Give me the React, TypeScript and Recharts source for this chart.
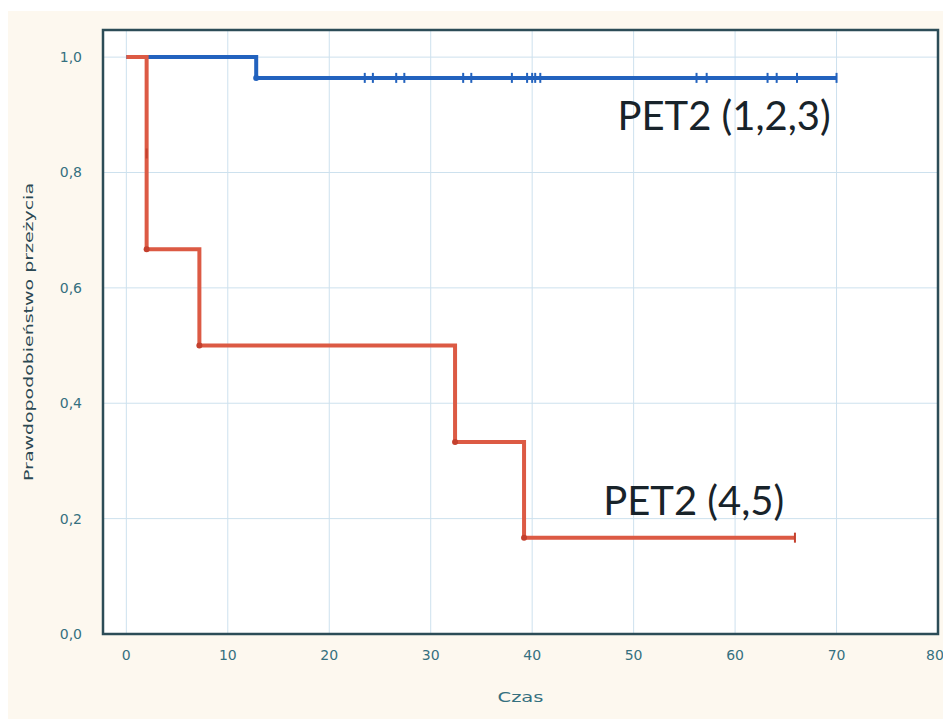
import React from 'react';
import { LineChart, Line, XAxis, YAxis, CartesianGrid, ReferenceArea, ReferenceDot } from 'recharts';

// PET2 (1,2,3) — Kaplan–Meier steps and censored times
const blueStepTimes = [0, 12.8];
const blueStepSurvival = [1, 0.964];
const blueCensorTimes = [23.5, 24.3, 26.6, 27.4, 33.2, 34.0, 38.0, 39.5, 40.0, 40.3, 40.8, 56.2, 57.2, 63.2, 64.1, 66.1, 70.0];

// PET2 (4,5)
const redTimes = [0, 2.0, 2.0, 7.2, 32.4, 39.2, 65.9];
const redSurvival = [1, 0.833, 0.667, 0.5, 0.333, 0.167, 0.167];
const redCensored = [false, true, false, false, false, false, true];

const xTicks = [0, 10, 20, 30, 40, 50, 60, 70, 80];
const yTicks = [0, 0.2, 0.4, 0.6, 0.8, 1.0];
const xDomain = [-2.3, 80];
const yDomain = [0, 1.047];

const annotations = [
  { text: 'PET2 (1,2,3)', t: 48.4, s: 0.873 },
  { text: 'PET2 (4,5)', t: 47.0, s: 0.206 },
];

type Pt = { t: number; s: number; censored: boolean; first?: boolean };

const blueData: Pt[] = (() => {
  const pts: Pt[] = blueStepTimes.map((t, i) => ({ t, s: blueStepSurvival[i], censored: false, first: i === 0 }));
  blueCensorTimes.forEach((t) => {
    let s = blueStepSurvival[0];
    blueStepTimes.forEach((st, i) => { if (st <= t) s = blueStepSurvival[i]; });
    pts.push({ t, s, censored: true });
  });
  return pts.sort((a, b) => a.t - b.t);
})();

const redData: Pt[] = redTimes.map((t, i) => ({ t, s: redSurvival[i], censored: redCensored[i], first: i === 0 }));

const BLUE = '#2262be';
const RED = '#dc5a44';
const AXIS = '#2c4c57';
const TICKTXT = '#35707f';
const TITLETXT = '#2b4852';

const makeDot = (color: string) => (props: any) => {
  const { cx, cy, payload, index } = props;
  if (cx == null || cy == null || payload.first) return <g key={'d' + index} />;
  if (payload.censored) {
    return (
      <g key={'d' + index}>
        <line x1={cx} y1={cy - 5} x2={cx} y2={cy + 5} stroke={color} strokeWidth={2} />
      </g>
    );
  }
  return <circle key={'d' + index} cx={cx} cy={cy} r={3} fill={color} stroke="none" />;
};

const XTick = (props: any) => {
  const { x, y, payload } = props;
  return (
    <text x={x} y={y + 26} textAnchor="middle" fontFamily="DejaVu Sans" fontSize={14} fill={TICKTXT}>
      {String(payload.value)}
    </text>
  );
};

const YTick = (props: any) => {
  const { x, y, payload } = props;
  return (
    <text x={x - 21} y={y + 5} textAnchor="end" fontFamily="DejaVu Sans" fontSize={14} fill={TICKTXT}>
      {Number(payload.value).toFixed(1).replace('.', ',')}
    </text>
  );
};

const AnnotationLabel = (text: string) => (props: any) => {
  const vb = props.viewBox || {};
  return (
    <text x={vb.x} y={vb.y} fontFamily="Lato" fontSize={40} fill="#18232a">
      {text}
    </text>
  );
};

export default function App() {
  return (
    <div style={{ position: 'absolute', left: 0, top: 0, width: 943, height: 719, background: '#ffffff' }}>
      <div style={{ position: 'absolute', left: 8, top: 11, width: 935, height: 708, background: '#fdf8ef' }}>
        <LineChart width={935} height={708} margin={{ top: 19, right: 5, bottom: 0, left: 0 }}>
          <CartesianGrid stroke="#cde1ee" strokeWidth={1} fill="#ffffff" />
          <XAxis
            dataKey="t"
            type="number"
            domain={xDomain}
            ticks={xTicks}
            allowDataOverflow
            height={85}
            tickSize={0}
            tickMargin={0}
            axisLine={false}
            tickLine={false}
            tick={<XTick />}
            label={{
              content: (p: any) => {
                const vb = p.viewBox;
                return (
                  <text x={vb.x + vb.width / 2} y={vb.y + 68} textAnchor="middle" fontFamily="DejaVu Sans" fontSize={14} fill={TICKTXT} textLength={46} lengthAdjust="spacingAndGlyphs">
                    Czas
                  </text>
                );
              },
            }}
          />
          <YAxis
            type="number"
            domain={yDomain}
            ticks={yTicks}
            allowDataOverflow
            width={95}
            tickSize={0}
            tickMargin={0}
            axisLine={false}
            tickLine={false}
            tick={<YTick />}
            label={{
              content: (p: any) => {
                const vb = p.viewBox;
                const cx = vb.x + 25;
                const cy = vb.y + vb.height / 2;
                return (
                  <text x={cx} y={cy} transform={`rotate(-90 ${cx} ${cy})`} textAnchor="middle" fontFamily="DejaVu Sans" fontSize={13} fill={TITLETXT} textLength={298} lengthAdjust="spacingAndGlyphs">
                    Prawdopodobieństwo przeżycia
                  </text>
                );
              },
            }}
          />
          <ReferenceArea x1={xDomain[0]} x2={xDomain[1]} y1={yDomain[0]} y2={yDomain[1]} fill="none" stroke={AXIS} strokeWidth={2.5} ifOverflow="visible" />
          <Line
            data={blueData}
            dataKey="s"
            type="stepAfter"
            stroke={BLUE}
            strokeWidth={4}
            dot={makeDot(BLUE)}
            activeDot={false}
            isAnimationActive={false}
          />
          <Line
            data={redData}
            dataKey="s"
            type="stepAfter"
            stroke={RED}
            strokeWidth={4}
            dot={makeDot('#c4402e')}
            activeDot={false}
            isAnimationActive={false}
          />
          {annotations.map((a) => (
            <ReferenceDot key={a.text} x={a.t} y={a.s} r={0} fill="none" stroke="none" ifOverflow="visible" label={{ content: AnnotationLabel(a.text) }} />
          ))}
        </LineChart>
      </div>
    </div>
  );
}
